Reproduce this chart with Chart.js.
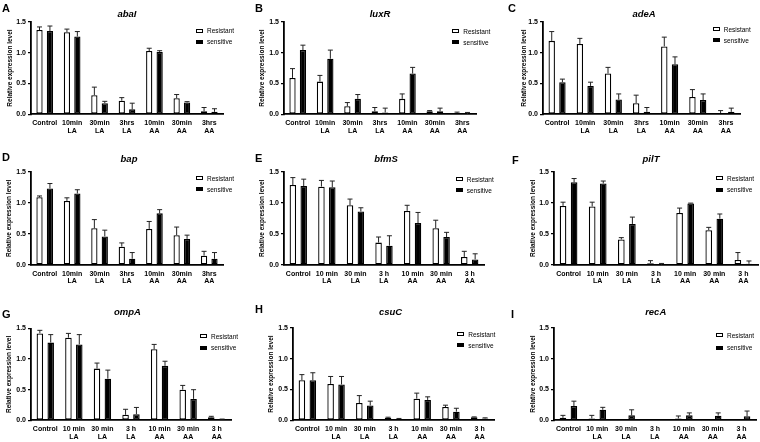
<!DOCTYPE html>
<html>
<head>
<meta charset="utf-8">
<script src="https://cdn.jsdelivr.net/npm/chart.js@4.4.1/dist/chart.umd.min.js"></script>
<style>
  body { margin: 0; background: #fff; font-family: 'Liberation Sans', Arial, sans-serif; }
  #wrap { position: relative; width: 760px; height: 442px; overflow: hidden; background: #fff; }
  canvas { position: absolute; }
  .letter { position: absolute; font-weight: bold; font-size: 11px; line-height: 11px; color: #000; }
  .gene { position: absolute; font-weight: bold; font-style: italic; font-size: 9.5px; line-height: 9.5px; transform: translateX(-50%); white-space: nowrap; color: #000; }
  .legbox { position: absolute; width: 7px; height: 4px; border: 1px solid #000; box-sizing: border-box; }
  .legtxt { position: absolute; font-size: 6.5px; line-height: 7px; white-space: nowrap; color: #000; }
</style>
</head>
<body>
<div id="wrap"></div>
<script>
// x tick labels
const labelsHrs = ['Control', ['10min', 'LA'], ['30min', 'LA'], ['3hrs', 'LA'], ['10min', 'AA'], ['30min', 'AA'], ['3hrs', 'AA']];
const labelsSpaced = ['Control', ['10 min', 'LA'], ['30 min', 'LA'], ['3 h', 'LA'], ['10 min', 'AA'], ['30 min', 'AA'], ['3 h', 'AA']];
const seriesNames = ['Resistant', 'sensitive'];
const yTicks = [0, 0.5, 1.0, 1.5];

// abaI
const abaIRes = [1.365, 1.33, 0.31, 0.22, 1.025, 0.26, 0.05];
const abaIResErr = [0.05, 0.05, 0.13, 0.05, 0.045, 0.06, 0.06];
const abaISen = [1.35, 1.26, 0.18, 0.08, 1.01, 0.19, 0.04];
const abaISenErr = [0.08, 0.08, 0.03, 0.10, 0.02, 0.015, 0.05];

// luxR
const luxRRes = [0.59, 0.53, 0.13, 0.05, 0.25, 0.05, 0.02];
const luxRResErr = [0.15, 0.10, 0.06, 0.06, 0.08, 0.01, 0.015];
const luxRSen = [1.04, 0.90, 0.25, 0.03, 0.66, 0.05, 0.005];
const luxRSenErr = [0.08, 0.14, 0.07, 0.07, 0.10, 0.05, 0.025];

// adeA
const adeARes = [1.19, 1.14, 0.66, 0.18, 1.10, 0.28, 0.02];
const adeAResErr = [0.15, 0.09, 0.10, 0.13, 0.15, 0.12, 0.04];
const adeASen = [0.52, 0.46, 0.24, 0.04, 0.81, 0.23, 0.04];
const adeASenErr = [0.05, 0.06, 0.09, 0.07, 0.12, 0.10, 0.06];

// bap
const bapRes = [1.09, 1.03, 0.59, 0.295, 0.58, 0.48, 0.15];
const bapResErr = [0.02, 0.05, 0.14, 0.06, 0.12, 0.13, 0.07];
const bapSen = [1.23, 1.15, 0.46, 0.10, 0.83, 0.42, 0.10];
const bapSenErr = [0.08, 0.06, 0.10, 0.10, 0.06, 0.06, 0.10];

// bfmS
const bfmSRes = [1.285, 1.26, 0.96, 0.36, 0.87, 0.59, 0.13];
const bfmSResErr = [0.12, 0.10, 0.10, 0.09, 0.09, 0.13, 0.09];
const bfmSSen = [1.27, 1.25, 0.86, 0.31, 0.675, 0.45, 0.09];
const bfmSSenErr = [0.11, 0.10, 0.06, 0.16, 0.17, 0.075, 0.09];

// pilT
const pilTRes = [0.95, 0.94, 0.41, 0.03, 0.835, 0.56, 0.08];
const pilTResErr = [0.06, 0.07, 0.03, 0.04, 0.08, 0.045, 0.12];
const pilTSen = [1.33, 1.31, 0.66, 0.005, 0.99, 0.745, 0.02];
const pilTSenErr = [0.06, 0.04, 0.11, 0.02, 0.005, 0.075, 0.045];

// ompA
const ompARes = [1.42, 1.35, 0.845, 0.09, 1.16, 0.50, 0.05];
const ompAResErr = [0.05, 0.07, 0.09, 0.09, 0.08, 0.07, 0.015];
const ompASen = [1.27, 1.24, 0.68, 0.10, 0.89, 0.35, 0.015];
const ompASenErr = [0.13, 0.16, 0.14, 0.11, 0.075, 0.15, 0.005];

// csuC
const csuCRes = [0.65, 0.59, 0.28, 0.04, 0.35, 0.215, 0.05];
const csuCResErr = [0.09, 0.12, 0.12, 0.01, 0.09, 0.03, 0.005];
const csuCSen = [0.65, 0.58, 0.24, 0.02, 0.33, 0.14, 0.03];
const csuCSenErr = [0.12, 0.13, 0.07, 0.01, 0.05, 0.055, 0.01];

// recA
const recARes = [0.04, 0.03, 0.004, 0.005, 0.03, 0.005, 0.005];
const recAResErr = [0.04, 0.05, 0, 0, 0.04, 0, 0];
const recASen = [0.23, 0.17, 0.08, 0.005, 0.08, 0.075, 0.065];
const recASenErr = [0.08, 0.04, 0.09, 0, 0.04, 0.045, 0.085];

// Panel layout: canvas box, plot area, y-title x, legend, title, letter
const panels = [
  { letter: 'A', gene: 'abaI', labels: labelsHrs, res: abaIRes, resErr: abaIResErr, sen: abaISen, senErr: abaISenErr,
    box: [0, 0, 253, 146], area: [31, 21.7, 223, 114.3], yTitleX: 10, legend: [196, 30.5, 41.7], title: [127, 16.7], at: [2, 2.6] },
  { letter: 'B', gene: 'luxR', labels: labelsHrs, res: luxRRes, resErr: luxRResErr, sen: luxRSen, senErr: luxRSenErr,
    box: [253, 0, 253, 146], area: [284, 21.7, 476, 114.3], yTitleX: 262, legend: [452.3, 31, 42], title: [380, 16.7], at: [255, 2.6] },
  { letter: 'C', gene: 'adeA', labels: labelsHrs, res: adeARes, resErr: adeAResErr, sen: adeASen, senErr: adeASenErr,
    box: [506, 0, 254, 146], area: [543, 21.7, 740, 114.3], yTitleX: 524.3, legend: [712.7, 29, 40], title: [644, 16.7], at: [508, 2.6] },
  { letter: 'D', gene: 'bap', labels: labelsHrs, res: bapRes, resErr: bapResErr, sen: bapSen, senErr: bapSenErr,
    box: [0, 146, 253, 146], area: [31, 171.7, 223, 265], yTitleX: 9.5, legend: [196, 178.3, 189.3], title: [129, 161.7], at: [2, 152] },
  { letter: 'E', gene: 'bfmS', labels: labelsSpaced, res: bfmSRes, resErr: bfmSResErr, sen: bfmSSen, senErr: bfmSSenErr,
    box: [253, 146, 253, 146], area: [284, 171.7, 484, 265], yTitleX: 262.3, legend: [455.7, 179.3, 190], title: [386, 161.7], at: [255, 153] },
  { letter: 'F', gene: 'pilT', labels: labelsSpaced, res: pilTRes, resErr: pilTResErr, sen: pilTSen, senErr: pilTSenErr,
    box: [506, 146, 254, 146], area: [554, 171.7, 758, 265], yTitleX: 533, legend: [716, 178.3, 189.7], title: [651, 161.7], at: [512, 155.3] },
  { letter: 'G', gene: 'ompA', labels: labelsSpaced, res: ompARes, resErr: ompAResErr, sen: ompASen, senErr: ompASenErr,
    box: [0, 292, 253, 150], area: [31, 328.5, 231, 420.3], yTitleX: 9.5, legend: [200, 336.3, 347.7], title: [127.5, 315.3], at: [2, 309] },
  { letter: 'H', gene: 'csuC', labels: labelsSpaced, res: csuCRes, resErr: csuCResErr, sen: csuCSen, senErr: csuCSenErr,
    box: [253, 292, 253, 150], area: [293, 327.7, 494, 420.3], yTitleX: 271.3, legend: [457.3, 334.3, 345.3], title: [390.5, 314.7], at: [255, 304] },
  { letter: 'I', gene: 'recA', labels: labelsSpaced, res: recARes, resErr: recAResErr, sen: recASen, senErr: recASenErr,
    box: [506, 292, 254, 150], area: [554, 327.7, 756, 420.3], yTitleX: 533, legend: [716, 335.3, 347.7], title: [655.7, 315.3], at: [511, 308.6] }
];

const FONT = "'Liberation Sans', Arial, sans-serif";
const X_AXIS_H = 21.6;
const Y_TITLE_SIZE = 6.5;

// Draw upward error bars with caps above each bar
const errorBars = {
  id: 'errorBars',
  afterDatasetsDraw(chart) {
    const ctx = chart.ctx;
    const yScale = chart.scales.y;
    ctx.save();
    ctx.strokeStyle = '#222';
    ctx.lineWidth = 1;
    chart.data.datasets.forEach((ds, d) => {
      chart.getDatasetMeta(d).data.forEach((bar, i) => {
        const e = ds.errors[i];
        if (!e) return;
        const top = yScale.getPixelForValue(ds.data[i] + e);
        ctx.beginPath();
        ctx.moveTo(bar.x, bar.y);
        ctx.lineTo(bar.x, top);
        ctx.moveTo(bar.x - 2.5, top);
        ctx.lineTo(bar.x + 2.5, top);
        ctx.stroke();
      });
    });
    ctx.restore();
  }
};

const wrap = document.getElementById('wrap');

const addDiv = (cls, text, left, top) => {
  const div = document.createElement('div');
  div.className = cls;
  if (text) div.textContent = text;
  div.style.left = left + 'px';
  div.style.top = top + 'px';
  wrap.appendChild(div);
  return div;
};

panels.forEach(p => {
  const [cx, cy, cw, ch] = p.box;
  const [al, at, ar, ab] = p.area;

  const cv = document.createElement('canvas');
  cv.width = cw;
  cv.height = ch;
  cv.style.left = cx + 'px';
  cv.style.top = cy + 'px';
  wrap.appendChild(cv);

  const padL = p.yTitleX - cx - (Y_TITLE_SIZE * 1.2) / 2;
  const yWidth = al - cx - padL;
  const padT = at - cy;
  const padR = cx + cw - ar;
  const padB = Math.max(0, cy + ch - ab - X_AXIS_H);

  new Chart(cv, {
    type: 'bar',
    data: {
      labels: p.labels,
      datasets: [
        { label: seriesNames[0], data: p.res, errors: p.resErr, backgroundColor: '#fff', borderColor: '#000', borderWidth: 1.3, borderSkipped: false },
        { label: seriesNames[1], data: p.sen, errors: p.senErr, backgroundColor: '#000', borderColor: '#000', borderWidth: 1.3, borderSkipped: false }
      ]
    },
    options: {
      responsive: false,
      animation: false,
      layout: { autoPadding: false, padding: { left: padL, top: padT, right: padR, bottom: padB } },
      plugins: { legend: { display: false }, tooltip: { enabled: false }, title: { display: false } },
      datasets: { bar: { categoryPercentage: 0.76, barPercentage: 0.6 } },
      scales: {
        x: {
          grid: { display: true, drawOnChartArea: false, drawTicks: false },
          border: { display: true, color: '#000', width: 1.8 },
          ticks: { color: '#000', font: { family: FONT, size: 7, weight: 'bold', lineHeight: 1.1 }, padding: 5, maxRotation: 0, minRotation: 0, autoSkip: false },
          afterFit: s => { s.height = X_AXIS_H; }
        },
        y: {
          min: yTicks[0],
          max: yTicks[yTicks.length - 1],
          afterBuildTicks: s => { s.ticks = yTicks.map(v => ({ value: v })); },
          ticks: { color: '#000', font: { family: FONT, size: 7, weight: 'bold' }, padding: 2, callback: v => Number(v).toFixed(1) },
          grid: { display: true, drawOnChartArea: false, drawTicks: true, tickLength: 3, color: '#000', lineWidth: 1.3 },
          border: { display: true, color: '#000', width: 1.8 },
          title: { display: true, text: 'Relative expression level', color: '#000', padding: 0, font: { family: FONT, size: Y_TITLE_SIZE, weight: 'bold', lineHeight: 1.2 } },
          afterFit: s => { s.width = yWidth; }
        }
      }
    },
    plugins: [errorBars]
  });

  // Panel letter and gene title
  addDiv('letter', p.letter, p.at[0], p.at[1]);
  addDiv('gene', p.gene, p.title[0], p.title[1] - 8);

  // Legend
  const [lx, ly1, ly2] = p.legend;
  const b1 = addDiv('legbox', '', lx, ly1 - 2);
  b1.style.background = '#fff';
  const b2 = addDiv('legbox', '', lx, ly2 - 2);
  b2.style.background = '#000';
  addDiv('legtxt', seriesNames[0], lx + 11, ly1 - 3.5);
  addDiv('legtxt', seriesNames[1], lx + 11, ly2 - 3.5);
});
</script>
</body>
</html>
